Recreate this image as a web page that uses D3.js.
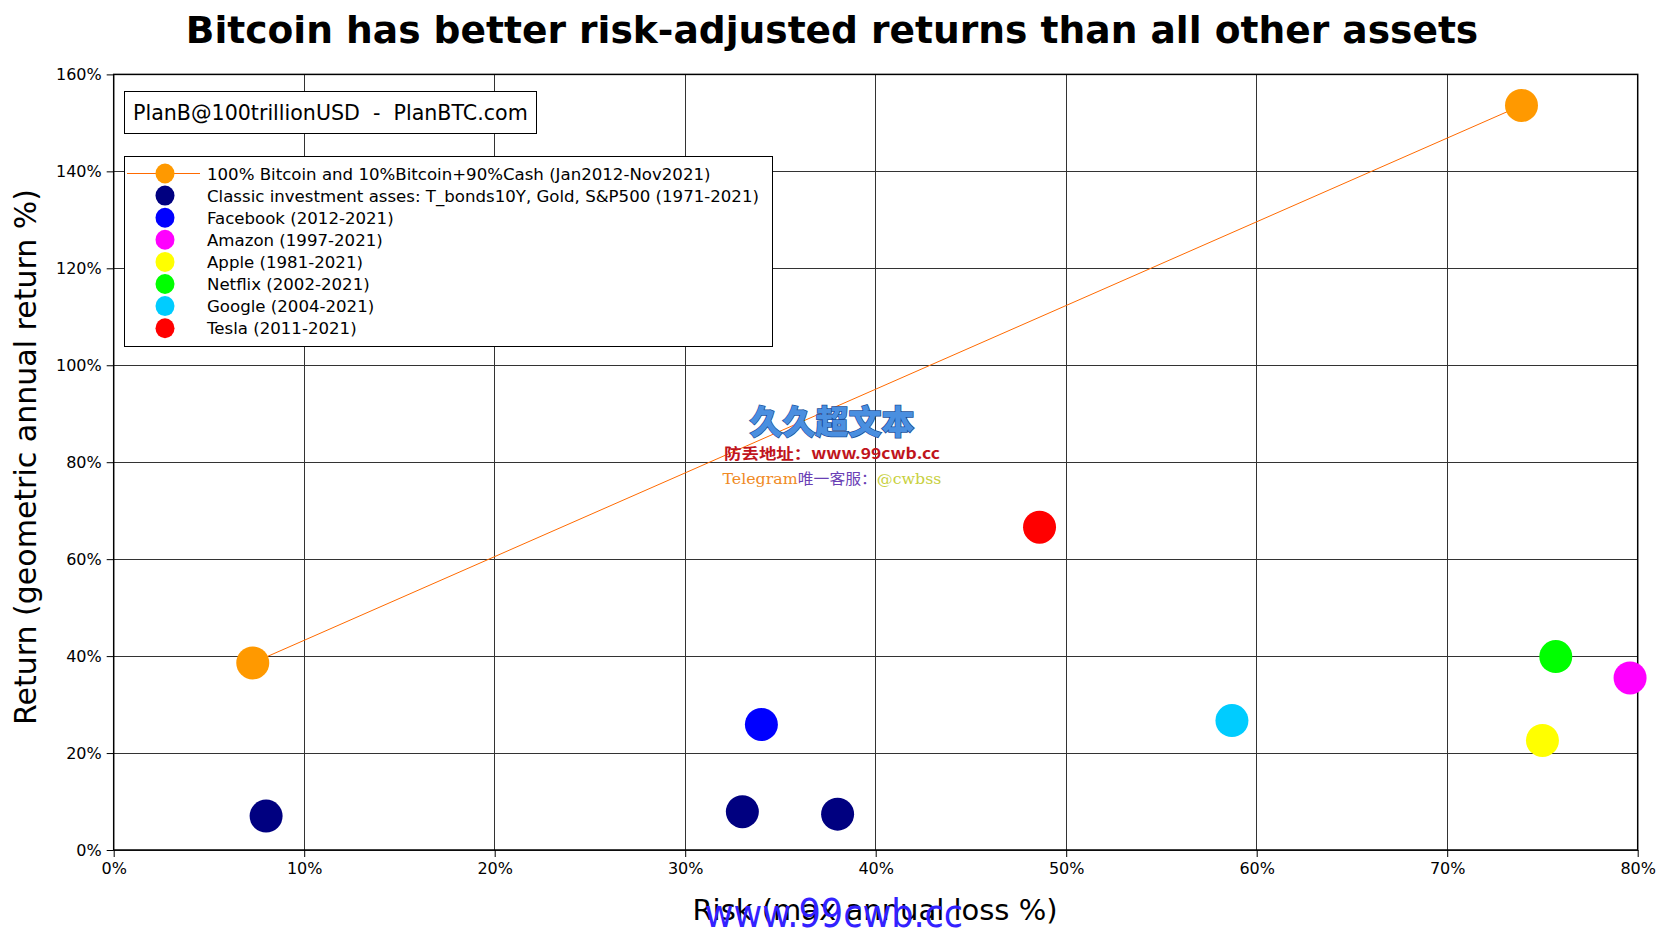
<!DOCTYPE html>
<html><head><meta charset="utf-8">
<script src="https://cdn.jsdelivr.net/npm/d3@7"></script>
<style>
html,body{margin:0;padding:0;background:#fff;}
svg{display:block;font-family:"DejaVu Sans",sans-serif;}
</style></head>
<body>
<svg id="chart" width="1666" height="937"></svg>
<script>
// ---- data ----
const seriesNames = [
  "100% Bitcoin and 10%Bitcoin+90%Cash (Jan2012-Nov2021)",
  "Classic investment asses: T_bonds10Y, Gold, S&P500 (1971-2021)",
  "Facebook (2012-2021)",
  "Amazon (1997-2021)",
  "Apple (1981-2021)",
  "Netflix (2002-2021)",
  "Google (2004-2021)",
  "Tesla (2011-2021)"
];
const seriesColors = ["#ff9900","#000080","#0000ff","#ff00ff","#ffff00","#00ff00","#00ccff","#ff0000"];
// risk (max annual loss %), return (geometric annual return %)
const bitcoinRisk   = [7.3, 73.9];
const bitcoinReturn = [38.6, 153.6];
const classicRisk   = [8.0, 33.0, 38.0];
const classicReturn = [7.0, 7.9, 7.4];
const facebookPt = [34.0, 25.9];
const amazonPt   = [79.6, 35.5];
const applePt    = [75.0, 22.6];
const netflixPt  = [75.7, 39.9];
const googlePt   = [58.7, 26.7];
const teslaPt    = [48.6, 66.6];
const xTicks = [0,10,20,30,40,50,60,70,80];
const yTicks = [0,20,40,60,80,100,120,140,160];

const svg = d3.select("#chart");
const L = 113.7, R = 1637.7, T = 74.4, B = 850;
const x = d3.scaleLinear().domain([0,80]).range([L,R]);
const y = d3.scaleLinear().domain([0,160]).range([B,T]);

// title
svg.append("text").attr("x",832).attr("y",43).attr("text-anchor","middle")
  .attr("font-size",37.6).attr("font-weight","bold")
  .text("Bitcoin has better risk-adjusted returns than all other assets");

// grid
const g = svg.append("g");
g.selectAll(".vg").data(xTicks).join("line")
  .attr("x1",d=>x(d)).attr("x2",d=>x(d)).attr("y1",T).attr("y2",B)
  .attr("stroke","#333").attr("stroke-width",1).attr("shape-rendering","crispEdges");
g.selectAll(".hg").data(yTicks).join("line")
  .attr("y1",d=>y(d)).attr("y2",d=>y(d)).attr("x1",L).attr("x2",R)
  .attr("stroke","#333").attr("stroke-width",1).attr("shape-rendering","crispEdges");

// axes
const xAxis = d3.axisBottom(x).tickValues(xTicks).tickFormat(d=>d+"%").tickSize(7).tickPadding(6);
const yAxis = d3.axisLeft(y).tickValues(yTicks).tickFormat(d=>d+"%").tickSize(7).tickPadding(5);
const gx = svg.append("g").attr("transform",`translate(0,${B})`).call(xAxis);
const gy = svg.append("g").attr("transform",`translate(${L},0)`).call(yAxis);
[gx,gy].forEach(a=>{
  a.select(".domain").remove();
  a.selectAll("text").attr("font-family","DejaVu Sans").attr("font-size",16).attr("fill","#000");
  a.selectAll("line").attr("stroke","#000");
});
// frame
svg.append("rect").attr("x",L).attr("y",T).attr("width",R-L).attr("height",B-T)
  .attr("fill","none").attr("stroke","#000").attr("stroke-width",1.5);

// axis titles
svg.append("text").attr("transform","translate(36,457) rotate(-90)").attr("text-anchor","middle")
  .attr("font-size",30).text("Return (geometric annual return %)");
svg.append("text").attr("x",875).attr("y",920).attr("text-anchor","middle")
  .attr("font-size",29).text("Risk (max annual loss %)");

// bitcoin line
svg.append("path")
  .attr("d", d3.line()(bitcoinRisk.map((r,i)=>[x(r),y(bitcoinReturn[i])])))
  .attr("stroke","#ff6a00").attr("stroke-width",1).attr("fill","none");

const R0 = 16.5;
const pts = [];
bitcoinRisk.forEach((r,i)=>pts.push({r, v:bitcoinReturn[i], c:seriesColors[0]}));
classicRisk.forEach((r,i)=>pts.push({r, v:classicReturn[i], c:seriesColors[1]}));
[facebookPt,amazonPt,applePt,netflixPt,googlePt,teslaPt].forEach((p,i)=>pts.push({r:p[0],v:p[1],c:seriesColors[i+2]}));
svg.selectAll(".pt").data(pts).join("circle")
  .attr("cx",d=>x(d.r)).attr("cy",d=>y(d.v)).attr("r",R0).attr("fill",d=>d.c);

// PlanB box
svg.append("rect").attr("x",124.5).attr("y",91.5).attr("width",412).attr("height",42)
  .attr("fill","#fff").attr("stroke","#000").attr("stroke-width",1);
svg.append("text").attr("x",133).attr("y",119.5).attr("font-size",20.6)
  .attr("xml:space","preserve").style("white-space","pre")
  .text("PlanB@100trillionUSD  -  PlanBTC.com");

// legend
const lg = svg.append("g");
lg.append("rect").attr("x",124.5).attr("y",156.5).attr("width",648).attr("height",190)
  .attr("fill","#fff").attr("stroke","#000").attr("stroke-width",1);
const rowY = i => 173.5 + i*22.1;
lg.append("line").attr("x1",127).attr("x2",200).attr("y1",rowY(0)).attr("y2",rowY(0))
  .attr("stroke","#ff6a00").attr("stroke-width",1);
lg.selectAll(".lm").data(seriesNames).join("ellipse")
  .attr("cx",165).attr("cy",(d,i)=>rowY(i)).attr("rx",9.5).attr("ry",10).attr("fill",(d,i)=>seriesColors[i]);
lg.selectAll(".lt").data(seriesNames).join("text")
  .attr("x",207).attr("y",(d,i)=>rowY(i)+6).attr("font-size",16.6).text(d=>d);

// watermark
const wm = svg.append("g").attr("font-family","'Noto Sans CJK SC',sans-serif");
wm.append("text").attr("x",832).attr("y",434).attr("text-anchor","middle").attr("font-size",33)
  .attr("font-weight","900").attr("fill","#4a8fe0").attr("stroke","#1a4f9a").attr("stroke-width",1.5)
  .attr("paint-order","stroke").text("久久超文本");
wm.append("text").attr("x",832).attr("y",459).attr("text-anchor","middle").attr("font-size",15)
  .attr("textLength",216).attr("lengthAdjust","spacingAndGlyphs")
  .attr("font-weight","bold").attr("fill","#c0141c").text("防丢地址：www.99cwb.cc");
const tl = wm.append("text").attr("x",832).attr("y",484).attr("text-anchor","middle").attr("font-size",15)
  .attr("textLength",219).attr("lengthAdjust","spacingAndGlyphs");
tl.append("tspan").attr("fill","#f08a24").attr("font-family","'DejaVu Serif',serif").text("Telegram");
tl.append("tspan").attr("fill","#6a3fb5").text("唯一客服：");
tl.append("tspan").attr("fill","#c8d040").attr("font-family","'DejaVu Serif',serif").text("@cwbss");
svg.append("text").attr("x",834).attr("y",927).attr("text-anchor","middle").attr("font-size",39)
  .attr("font-family","'Liberation Sans Narrow','DejaVu Sans Condensed',sans-serif")
  .attr("fill","#3322ff").text("www.99cwb.cc");
</script>
</body></html>
